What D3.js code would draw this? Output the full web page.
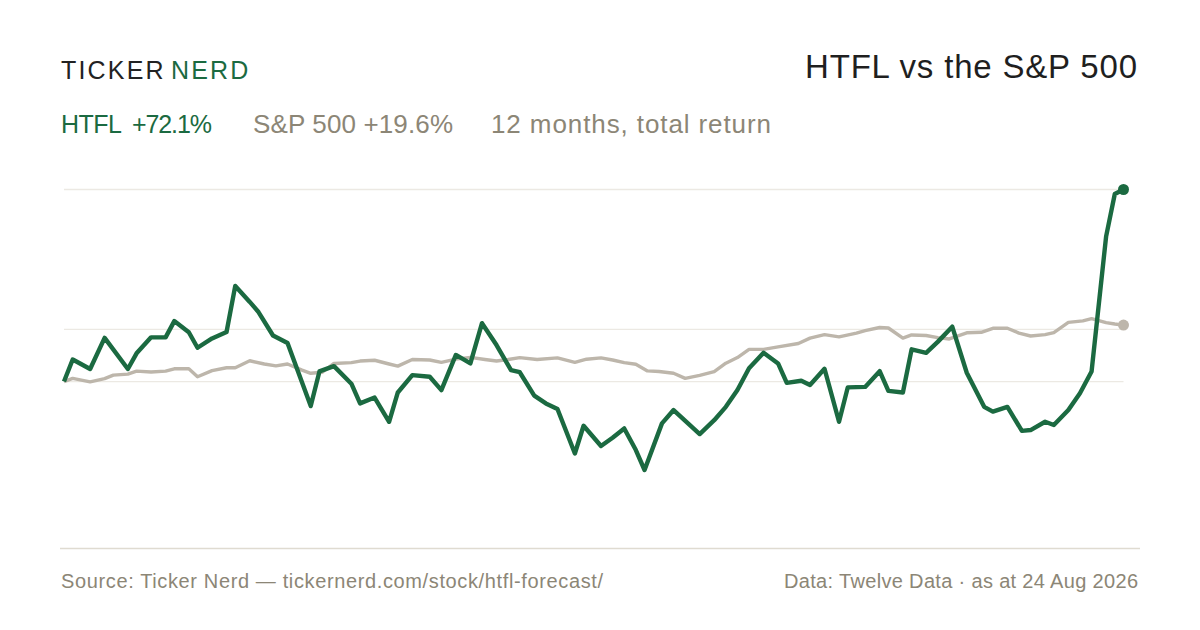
<!DOCTYPE html>
<html>
<head>
<meta charset="utf-8">
<script src="https://cdn.jsdelivr.net/npm/d3@7"></script>
<style>
  body { margin: 0; background: #fff; }
  svg { display: block; font-family: "Liberation Sans", Arial, sans-serif; }
</style>
</head>
<body>
<svg id="chart" width="1200" height="630"></svg>
<script>
// 12 months to 24 Aug 2026, day offsets from the start, % return
var htflDays = [0, 3, 9, 14, 22, 25, 30, 35, 38, 43, 46, 51, 56, 59, 64, 67, 72, 77, 85, 88,
  93, 99, 102, 107, 112, 115, 120, 126, 130, 135, 140, 144, 149, 154, 157, 162, 166, 170, 176, 179,
  185, 189, 193, 197, 200, 206, 210, 219, 224, 228, 232, 236, 241, 246, 249, 254, 257, 262, 267, 270,
  276, 281, 284, 289, 292, 297, 301, 306, 311, 317, 320, 325, 330, 333, 338, 341, 346, 350, 354, 359,
  362, 365];
var htflValues = [0, 8.3, 4.7, 16.4, 4.7, 10.6, 16.6, 16.6, 22.7, 18.5, 12.7, 16.2, 18.6, 35.9, 29.9, 26.1, 17.3, 14.5, -9.2, 3.8,
  5.8, -0.8, -8.2, -6.0, -15.1, -4.1, 2.4, 1.8, -3.2, 10.0, 6.8, 21.9, 13.7, 4.3, 3.5, -5.3, -8.2, -10.3, -27.0, -16.6,
  -24.2, -21.1, -17.6, -25.7, -33.2, -15.7, -10.7, -19.7, -14.5, -9.5, -3.2, 5.0, 10.8, 6.8, -0.5, 0.3, -1.3, 4.8, -15.1, -2.2,
  -2.0, 3.9, -3.5, -4.1, 12.1, 10.8, 14.9, 20.6, 3.3, -9.5, -11.3, -9.5, -18.5, -18.2, -15.1, -16.3, -10.7, -4.4, 3.8, 54.4,
  70.4, 72.1];

var spxDays = [0, 3, 9, 14, 17, 22, 25, 30, 35, 38, 43, 46, 51, 56, 59, 64, 69, 73, 77, 82,
  85, 89, 93, 99, 102, 107, 112, 115, 120, 126, 130, 135, 140, 145, 149, 153, 157, 163, 170, 176,
  180, 185, 189, 193, 197, 201, 205, 210, 214, 219, 224, 228, 232, 236, 241, 246, 253, 257, 262, 267,
  273, 276, 281, 284, 289, 292, 297, 301, 305, 311, 316, 320, 325, 329, 333, 338, 341, 346, 351, 354,
  359, 362, 365];
var spxValues = [0, 1.2, -0.1, 1.1, 2.4, 2.8, 3.9, 3.6, 3.9, 4.8, 4.8, 1.8, 4.1, 5.2, 5.2, 7.8, 6.6, 5.9, 6.6, 4.3,
  3.1, 3.5, 6.8, 7.1, 7.7, 8.0, 6.6, 5.8, 8.3, 8.1, 7.2, 8.4, 9.1, 8.3, 7.7, 8.3, 9.0, 8.3, 8.9, 7.2,
  8.4, 8.9, 8.1, 7.1, 6.5, 4.0, 3.8, 3.1, 1.2, 2.3, 3.7, 6.9, 9.0, 12.1, 12.1, 13.0, 14.3, 16.3, 17.6, 16.8,
  18.2, 19.1, 20.3, 20.1, 16.3, 17.5, 17.3, 16.5, 16.0, 18.3, 18.5, 20.0, 20.0, 18.2, 17.1, 17.6, 18.4, 22.2, 22.8, 23.6,
  22.1, 21.6, 21.2];

var htflReturn = 72.1;
var spxReturn = 19.6;
var gridValues = [0, spxReturn, htflReturn];

var green = "#1b6a41";
var grey = "#8c8676";
var spxColor = "#bdb6ab";

var svg = d3.select("#chart");

var x = d3.scaleLinear().domain([0, 365]).range([64, 1123.5]);
var y = d3.scaleLinear()
  .domain(d3.extent(htflValues))
  .range([470, 189.5]);

// gridlines
svg.append("g")
  .selectAll("line")
  .data(gridValues)
  .enter()
  .append("line")
  .attr("x1", x(0))
  .attr("x2", x(365))
  .attr("y1", function(d) { return y(d); })
  .attr("y2", function(d) { return y(d); })
  .attr("stroke", "#ece9e3")
  .attr("stroke-width", 1.3);

var htfl = htflDays.map(function(d, i) { return {day: d, value: htflValues[i]}; });
var spx = spxDays.map(function(d, i) { return {day: d, value: spxValues[i]}; });

var line = d3.line()
  .x(function(d) { return x(d.day); })
  .y(function(d) { return y(d.value); });

svg.append("path")
  .datum(spx)
  .attr("d", line)
  .attr("fill", "none")
  .attr("stroke", spxColor)
  .attr("stroke-width", 3.4)
  .attr("stroke-linejoin", "round");

svg.append("path")
  .datum(htfl)
  .attr("d", line)
  .attr("fill", "none")
  .attr("stroke", green)
  .attr("stroke-width", 4.4)
  .attr("stroke-linejoin", "round");

var lastSpx = spx[spx.length - 1];
var lastHtfl = htfl[htfl.length - 1];
svg.append("circle")
  .attr("cx", x(lastSpx.day)).attr("cy", y(lastSpx.value))
  .attr("r", 5.5).attr("fill", spxColor);
svg.append("circle")
  .attr("cx", x(lastHtfl.day)).attr("cy", y(lastHtfl.value))
  .attr("r", 5.5).attr("fill", green);

// header
var logo = svg.append("text")
  .attr("x", 61).attr("y", 79)
  .attr("font-size", 25)
  .attr("letter-spacing", 2.2);
logo.append("tspan").attr("fill", "#222").text("TICKER");
logo.append("tspan").attr("fill", green).attr("dx", 5).text("NERD");

// widths are pinned to the reference, the font is a stand-in
var addText = function(txt, xPos, yPos, size, color, width, anchor) {
  var t = svg.append("text")
    .attr("x", xPos).attr("y", yPos)
    .attr("font-size", size)
    .attr("fill", color)
    .attr("text-anchor", anchor || "start")
    .text(txt);
  if (width) t.attr("textLength", width).attr("lengthAdjust", "spacing");
  return t;
};

addText("HTFL vs the S&P 500", 1137, 78, 33, "#1f1f1f", 332, "end");

addText("HTFL", 61, 133, 25, green, 61);
addText("+" + htflReturn + "%", 132, 133, 25, green, 80);
addText("S&P 500 +" + spxReturn + "%", 253, 133, 26, grey, 200);
addText("12 months, total return", 491, 133, 26, grey, 280);

// footer
svg.append("line")
  .attr("x1", 60).attr("x2", 1140)
  .attr("y1", 548.5).attr("y2", 548.5)
  .attr("stroke", "#dfdbd1")
  .attr("stroke-width", 1.5);

addText("Source: Ticker Nerd \u2014 tickernerd.com/stock/htfl-forecast/", 61, 588, 20, grey, 542);
addText("Data: Twelve Data \u00b7 as at 24 Aug 2026", 1138, 588, 20, grey, 354, "end");
</script>
</body>
</html>
